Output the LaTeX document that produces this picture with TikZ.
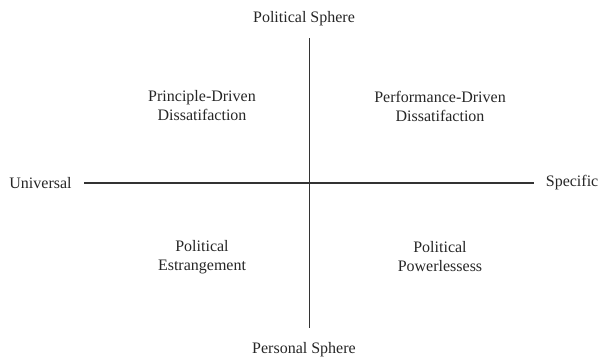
\documentclass[tikz,border=0pt]{standalone}
\usepackage{fontspec}
\setmainfont{Liberation Serif}
\begin{document}
\begin{tikzpicture}[x=1pt,y=-1pt,
  lbl/.style={font=\fontsize{16}{19}\selectfont, text=black!85, inner sep=0pt, align=center},
  axis/.style={draw=black!80, line width=1.2pt}]
\useasboundingbox (0,0) rectangle (599,359);
\node[lbl] (top) at (304,19) {Political Sphere};
\node[lbl] (bot) at (304,350) {Personal Sphere};
\node[lbl] (left) at (40.5,183) {Universal};
\node[lbl, anchor=east] (right) at (598.5,183) {Specific};
\coordinate (vt) at (309.5,38);
\coordinate (vb) at (309.5,328);
\coordinate (hl) at (84,183);
\coordinate (hr) at (534,183);
\draw[axis] (vt) -- (vb);
\draw[axis] (hl) -- (hr);
\node[lbl] (q1) at (202,106) {Principle-Driven\\Dissatifaction};
\node[lbl] (q2) at (440,106) {Performance-Driven\\Dissatifaction};
\node[lbl] (q3) at (202,257) {Political\\Estrangement};
\node[lbl] (q4) at (440,257) {Political\\Powerlessess};
\end{tikzpicture}
\end{document}
